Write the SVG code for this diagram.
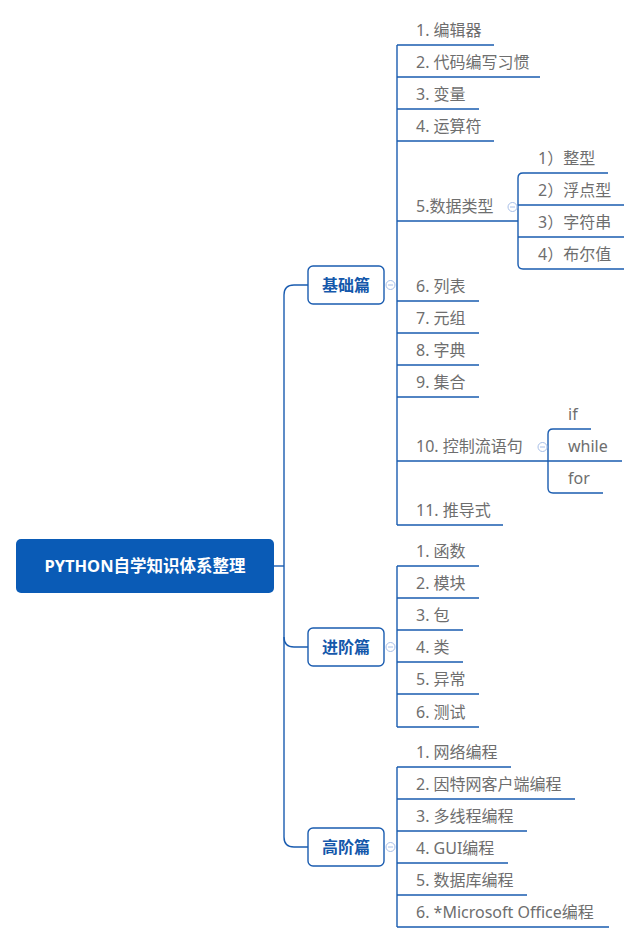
<svg xmlns="http://www.w3.org/2000/svg" width="640" height="943" viewBox="0 0 640 943">
<style>
.ln{fill:none;stroke:#1a5cb0;stroke-width:1.4}
.t{font-family:"Noto Sans","Noto Sans CJK SC",sans-serif;font-size:16px;fill:#6e6e6e}
.nb{fill:#fff;stroke:#1a5cb0;stroke-width:1.4}
.nt{font-family:"Noto Sans","Noto Sans CJK SC",sans-serif;font-size:16px;font-weight:bold;fill:#1458ab;text-anchor:middle}
.ic{fill:#fff;stroke:#a8bfe8;stroke-width:1}
.icm{stroke:#a8bfe8;stroke-width:1}
</style>
<rect width="640" height="943" fill="#fff"/>
<g id="connectors">
<path class="ln" d="M274,566 H284"/>
<path class="ln" d="M308,285 H294 Q284,285 284,295 V837 Q284,847 294,847 H308"/>
<path class="ln" d="M284,637 Q284,647 294,647 H308"/>
<path class="ln" d="M397,45 V525"/>
<path class="ln" d="M397,45 H494 M397,77 H540 M397,109 H479 M397,141 H494 M397,221 H518 M397,301 H479 M397,333 H479 M397,365 H479 M397,397 H479 M397,461 H548 M397,525 H503"/>
<path class="ln" d="M608,173 H523 Q518,173 518,178 V264 Q518,269 523,269 H624 M518,205 H624 M518,237 H624"/>
<path class="ln" d="M591,429 H553 Q548,429 548,434 V488 Q548,493 553,493 H603 M548,461 H622"/>
<path class="ln" d="M397,566 V727 M397,566 H479 M397,598 H479 M397,630 H463 M397,662 H463 M397,694 H479 M397,727 H479"/>
<path class="ln" d="M397,767 V927 M397,767 H511 M397,799 H575 M397,831 H527 M397,863 H508 M397,895 H527 M397,927 H609"/>
</g>
<g id="root">
<rect x="16" y="539" width="258" height="54" rx="5" fill="#0a5bb6"/>
<text x="145" y="572" class="nt" style="fill:#fff;font-size:16.5px">PYTHON自学知识体系整理</text>
</g>
<g id="jichu">
<rect class="nb" x="308" y="266" width="76" height="38" rx="5"/>
<text class="nt" x="346" y="291">基础篇</text>
<circle class="ic" cx="390.5" cy="285" r="4.5"/><path class="icm" d="M388,285 H393"/>
</g>
<g id="jinjie">
<rect class="nb" x="308" y="628" width="76" height="38" rx="5"/>
<text class="nt" x="346" y="653">进阶篇</text>
<circle class="ic" cx="390.5" cy="647" r="4.5"/><path class="icm" d="M388,647 H393"/>
</g>
<g id="gaojie">
<rect class="nb" x="308" y="828" width="76" height="38" rx="5"/>
<text class="nt" x="346" y="853">高阶篇</text>
<circle class="ic" cx="390.5" cy="847" r="4.5"/><path class="icm" d="M388,847 H393"/>
</g>
<g id="jichu-items">
<text class="t" x="416" y="36">1. 编辑器</text>
<text class="t" x="416" y="68">2. 代码编写习惯</text>
<text class="t" x="416" y="100">3. 变量</text>
<text class="t" x="416" y="132">4. 运算符</text>
<g id="datatype">
<text class="t" x="416" y="212">5.数据类型</text>
<circle class="ic" cx="512.5" cy="207" r="4.5"/><path class="icm" d="M510,207 H515"/>
<text class="t" x="538" y="164">1）整型</text>
<text class="t" x="538" y="196">2）浮点型</text>
<text class="t" x="538" y="228">3）字符串</text>
<text class="t" x="538" y="260">4）布尔值</text>
</g>
<text class="t" x="416" y="292">6. 列表</text>
<text class="t" x="416" y="324">7. 元组</text>
<text class="t" x="416" y="356">8. 字典</text>
<text class="t" x="416" y="388">9. 集合</text>
<g id="control">
<text class="t" x="416" y="452">10. 控制流语句</text>
<circle class="ic" cx="542.5" cy="447" r="4.5"/><path class="icm" d="M540,447 H545"/>
<text class="t" x="568" y="420">if</text>
<text class="t" x="568" y="452">while</text>
<text class="t" x="568" y="484">for</text>
</g>
<text class="t" x="416" y="516">11. 推导式</text>
</g>
<g id="jinjie-items">
<text class="t" x="416" y="557">1. 函数</text>
<text class="t" x="416" y="589">2. 模块</text>
<text class="t" x="416" y="621">3. 包</text>
<text class="t" x="416" y="653">4. 类</text>
<text class="t" x="416" y="685">5. 异常</text>
<text class="t" x="416" y="718">6. 测试</text>
</g>
<g id="gaojie-items">
<text class="t" x="416" y="758">1. 网络编程</text>
<text class="t" x="416" y="790">2. 因特网客户端编程</text>
<text class="t" x="416" y="822">3. 多线程编程</text>
<text class="t" x="416" y="854">4. GUI编程</text>
<text class="t" x="416" y="886">5. 数据库编程</text>
<text class="t" x="416" y="918">6. *Microsoft Office编程</text>
</g>
</svg>
